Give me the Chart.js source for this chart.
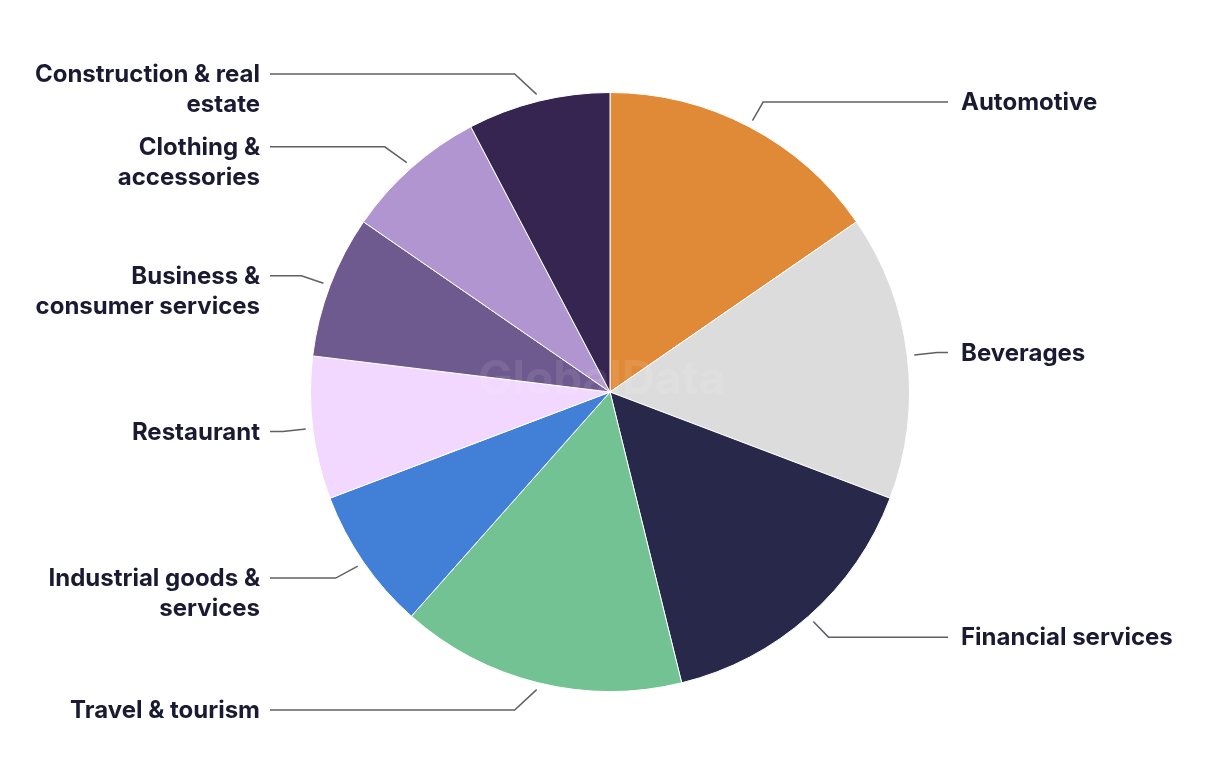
<!DOCTYPE html>
<html>
<head>
<meta charset="utf-8">
<script src="https://cdn.jsdelivr.net/npm/chart.js@4"></script>
<style>
    html, body { margin: 0; padding: 0; background: #fff; }
    #wrap { width: 1220px; height: 764px; }
</style>
</head>
<body>
<div id="wrap"><canvas id="sectorChart"></canvas></div>
<script>
// Share of sectors (%)
const categories = [
    ['Automotive'],
    ['Beverages'],
    ['Financial services'],
    ['Travel & tourism'],
    ['Industrial goods &', 'services'],
    ['Restaurant'],
    ['Business &', 'consumer services'],
    ['Clothing &', 'accessories'],
    ['Construction & real', 'estate']
];
const shares = [15.4, 15.4, 15.4, 15.4, 7.7, 7.7, 7.7, 7.7, 7.7];
const sliceColors = ['#E08A38', '#DCDCDC', '#28284B', '#73C293', '#427FD6',
                     '#F2D8FF', '#6E5A8E', '#B095D1', '#362451'];

// --- Leader lines + labels drawn next to each slice ---
const leaderLabels = {
    id: 'leaderLabels',
    afterDatasetsDraw(chart) {
        const ctx = chart.ctx;
        const arcs = chart.getDatasetMeta(0).data;

        // faint watermark
        ctx.save();
        ctx.font = 'bold 46px Inter';
        ctx.fillStyle = 'rgba(255,255,255,0.09)';
        ctx.textBaseline = 'middle';
        ctx.fillText('GlobalData', 478, 380);
        ctx.restore();

        arcs.forEach((arc, i) => {
            const mid = (arc.startAngle + arc.endAngle) / 2;
            const ux = Math.cos(mid), uy = Math.sin(mid);
            const r = arc.outerRadius;
            const right = ux >= 0;
            const sign = right ? 1 : -1;

            const sx = arc.x + (r + 7) * ux;
            const sy = arc.y + (r + 7) * uy;
            const ex = sx + sign * Math.max(Math.abs(ux) * 23, right ? 0 : 22);
            const ey = sy + uy * 21;
            const endX = right ? arc.x + 338 : arc.x - 340;

            ctx.save();
            ctx.strokeStyle = '#5f5f66';
            ctx.lineWidth = 1.5;
            ctx.beginPath();
            ctx.moveTo(sx, sy);
            ctx.lineTo(ex, ey);
            ctx.lineTo(endX, ey);
            ctx.stroke();

            ctx.font = '700 24px Inter';
            ctx.fillStyle = '#1b1a33';
            ctx.textBaseline = 'middle';
            ctx.textAlign = right ? 'left' : 'right';
            const tx = right ? endX + 13 : endX - 10;
            categories[i].forEach((line, k) => {
                ctx.fillText(line, tx, ey + 1 + k * 30);
            });
            ctx.restore();
        });
    }
};

new Chart(document.getElementById('sectorChart'), {
    type: 'pie',
    data: {
        labels: categories,
        datasets: [{
            data: shares,
            backgroundColor: sliceColors,
            borderColor: '#ffffff',
            borderWidth: 1
        }]
    },
    options: {
        responsive: true,
        maintainAspectRatio: false,
        animation: false,
        layout: { padding: { top: 92, bottom: 72, left: 0, right: 0 } },
        plugins: {
            legend: { display: false },
            tooltip: { enabled: false }
        }
    },
    plugins: [leaderLabels]
});
</script>
</body>
</html>
